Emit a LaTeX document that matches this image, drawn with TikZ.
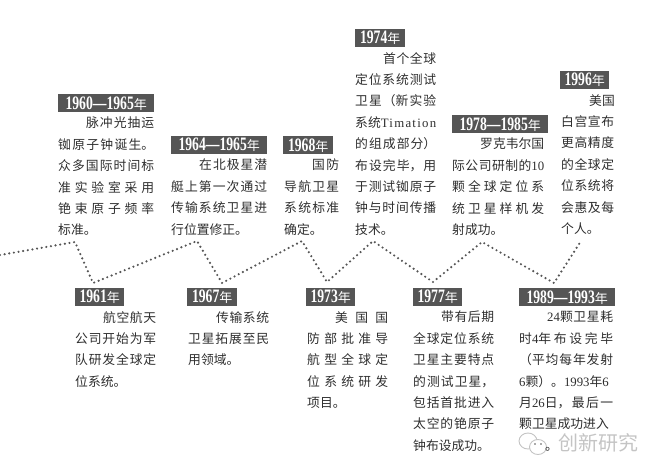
\documentclass[tikz,border=0pt]{standalone}
\usepackage{fontspec}
\newfontfamily\cjkfont{Noto Sans CJK SC}
\newfontfamily\latfont{Liberation Serif}
\newfontfamily\yearfont[FakeStretch=0.72]{Liberation Serif Bold}
\XeTeXlinebreaklocale "zh"
\XeTeXlinebreakskip=0pt plus 10pt
\XeTeXlinebreakpenalty=10000
\newcommand{\nl}{\linebreak}
\newcommand{\ind}{\hspace*{28pt}}
\newcommand{\yr}[1]{{\yearfont\fontsize{19}{17}\selectfont #1}{\cjkfont\fontsize{13}{17}\selectfont 年}}
\definecolor{barcol}{HTML}{555555}
\definecolor{txtcol}{HTML}{2E2E2E}
\definecolor{markcol}{HTML}{C4C4C4}
\tikzset{
    yearbar/.style={anchor=north west, fill=barcol, text=white, inner sep=0pt, minimum height=18pt, minimum width=#1, align=center},
    body/.style={anchor=north west, inner sep=0pt, text=txtcol, text width=#1, align=justify,
        font=\cjkfont\fontsize{12.8}{21.4}\selectfont},
    dotline/.style={barcol, line width=2.4pt, line cap=round, dash pattern=on 0pt off 4.7pt},
}
\begin{document}
\begin{tikzpicture}[x=1pt, y=-1pt]
    \useasboundingbox (0,0) rectangle (658,474);
    % zigzag
    \coordinate (p0) at (0,255);
    \coordinate (p1) at (75,242);
    \coordinate (p2) at (93,283);
    \coordinate (p3) at (197,241);
    \coordinate (p4) at (222,283);
    \coordinate (p5) at (302,241);
    \coordinate (p6) at (327,282);
    \coordinate (p7) at (373,241);
    \coordinate (p8) at (433,282);
    \coordinate (p9) at (482,242);
    \coordinate (p10) at (554,283);
    \coordinate (p11) at (581,241);
    \draw[dotline] (p0) -- (p1) -- (p2) -- (p3) -- (p4) -- (p5) -- (p6) -- (p7) -- (p8) -- (p9) -- (p10) -- (p11);
    % upper row
    \node[yearbar=96pt] (y1960) at (58,94) {\yr{1960—1965}};
    \node[body=96pt] (t1960) at (58,117) {\ind 脉冲光抽运\nl 铷原子钟诞生。\nl 众多国际时间标\nl 准实验室采用\nl 铯束原子频率\nl 标准。};
    \node[yearbar=96pt] (y1964) at (171,136) {\yr{1964—1965}};
    \node[body=96pt] (t1964) at (171,159) {\ind 在北极星潜\nl 艇上第一次通过\nl 传输系统卫星进\nl 行位置修正。};
    \node[yearbar=50pt] (y1968) at (283,136) {\yr{1968}};
    \node[body=55pt] (t1968) at (284,159) {\ind 国防\nl 导航卫星\nl 系统标准\nl 确定。};
    \node[yearbar=50pt] (y1974) at (355,29) {\yr{1974}};
    \node[body=81pt] (t1974) at (355,52) {\ind 首个全球\nl 定位系统测试\nl 卫星（新实验\nl 系统{\latfont\addfontfeature{LetterSpace=10}Timation}\nl 的组成部分）\nl 布设完毕，用\nl 于测试铷原子\nl 钟与时间传播\nl 技术。};
    \node[yearbar=96pt] (y1978) at (452,115) {\yr{1978—1985}};
    \node[body=92pt] (t1978) at (452,138) {\ind 罗克韦尔国\nl 际公司研制的{\latfont 10}\nl 颗全球定位系\nl 统卫星样机发\nl 射成功。};
    \node[yearbar=49pt] (y1996) at (560,71) {\yr{1996}};
    \node[body=53pt] (t1996) at (561,94) {\ind 美国\nl 白宫宣布\nl 更高精度\nl 的全球定\nl 位系统将\nl 会惠及每\nl 个人。};
    % lower row
    \node[yearbar=49pt] (y1961) at (75,288) {\yr{1961}};
    \node[body=81pt] (t1961) at (75,311) {\ind 航空航天\nl 公司开始为军\nl 队研发全球定\nl 位系统。};
    \node[yearbar=50pt] (y1967) at (187,288) {\yr{1967}};
    \node[body=81pt] (t1967) at (188,311) {\ind 传输系统\nl 卫星拓展至民\nl 用领域。};
    \node[yearbar=49pt] (y1973) at (306,288) {\yr{1973}};
    \node[body=81pt] (t1973) at (307,311) {\ind 美国国\nl 防部批准导\nl 航型全球定\nl 位系统研发\nl 项目。};
    \node[yearbar=49pt] (y1977) at (413,288) {\yr{1977}};
    \node[body=81pt] (t1977) at (413,311) {\ind 带有后期\nl 全球定位系统\nl 卫星主要特点\nl 的测试卫星，\nl 包括首批进入\nl 太空的铯原子\nl 钟布设成功。};
    \node[yearbar=96pt] (y1989) at (519,288) {\yr{1989—1993}};
    \node[body=94pt] (t1989) at (519,311) {\parfillskip=0pt \ind {\latfont 24}颗卫星耗\nl 时{\latfont 4}年布设完毕\nl （平均每年发射\nl {\latfont 6}颗）。{\latfont 1993}年{\latfont 6}\nl 月{\latfont 26}日，最后一\nl 颗卫星成功进入};
    % watermark
    \draw[markcol, fill=white, line width=0.9pt] (528,441) ellipse (9 and 8);
    \draw[markcol, fill=white, line width=0.9pt] (538,447) ellipse (8.5 and 7.5);
    \fill[barcol] (535,444) circle (0.8) (541,444) circle (0.8);
    \node[anchor=base west, inner sep=0pt, text=txtcol, font=\cjkfont\fontsize{12.8}{21.4}\selectfont] (t1989end) at (545,450) {。};
    \node[anchor=west, inner sep=0pt, text=markcol, font=\cjkfont\fontsize{20}{20}\selectfont] (mark) at (558.5,443) {创新研究};
\end{tikzpicture}
\end{document}
